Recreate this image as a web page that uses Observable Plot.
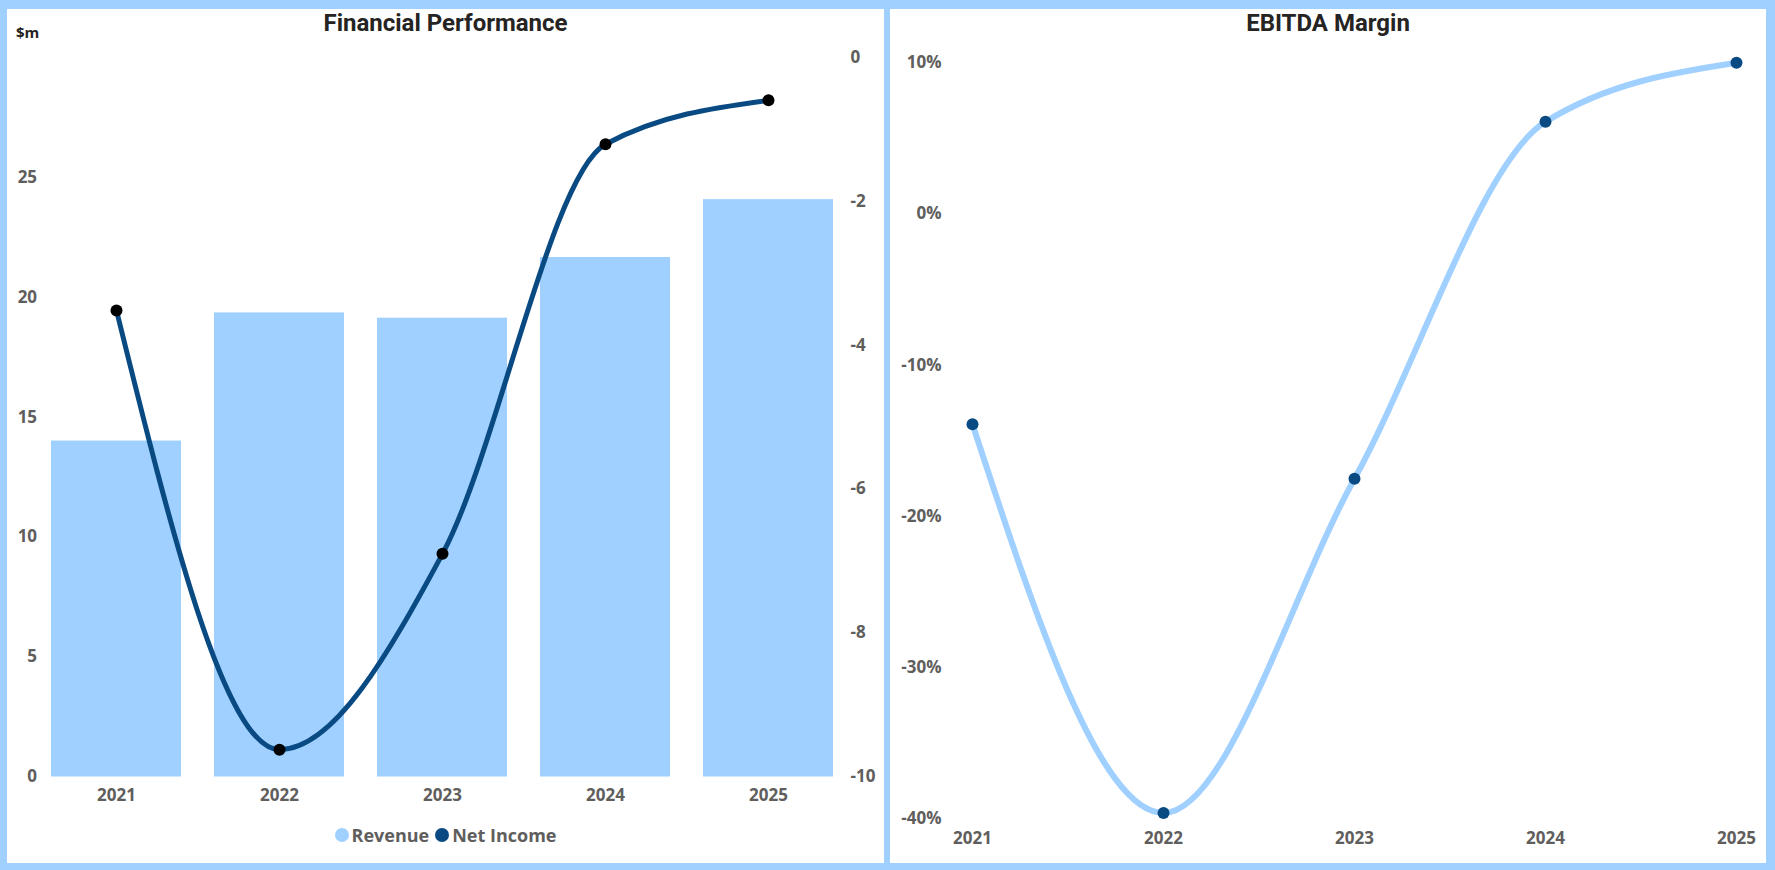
<!DOCTYPE html>
<html>
<head>
<meta charset="utf-8">
<script src="https://cdn.jsdelivr.net/npm/d3@7"></script>
<script src="https://cdn.jsdelivr.net/npm/@observablehq/plot@0.6"></script>
<style>
  html, body { margin: 0; padding: 0; background: #A0D0FF; }
  #frame { position: relative; width: 1775px; height: 870px; background: #A0D0FF; overflow: hidden; }
  .panel { position: absolute; background: #ffffff; }
  .title { position: absolute; left: 0; right: 0; text-align: center; font-family: Roboto, "Open Sans", sans-serif; font-weight: 700; font-size: 24px; color: #252423; line-height: 28px; }
  .unit { position: absolute; font-family: "Open Sans", sans-serif; font-weight: 700; font-size: 15px; color: #252423; line-height: 18px; }
  .legend { position: absolute; left: 0; right: 0; display: flex; justify-content: center; align-items: center; font-family: "Open Sans", sans-serif; font-weight: 700; font-size: 18px; color: #605E5C; line-height: 22px; }
  .legend .sw { width: 14px; height: 14px; border-radius: 50%; display: inline-block; margin-right: 3px; }
  .legend .item { display: flex; align-items: center; margin: 0 3px; }
  .chart { position: absolute; left: 0; top: 0; }
</style>
</head>
<body>
<div id="frame">
  <div class="panel" id="left" style="left:7px; top:9px; width:877px; height:854px;">
    <div class="chart" id="leftChart"></div>
    <div class="title" style="top:0px;">Financial Performance</div>
    <div class="unit" style="left:9px; top:14px;">$m</div>
    <div class="legend" id="legend" style="top:815px;"></div>
  </div>
  <div class="panel" id="right" style="left:890px; top:9px; width:876px; height:854px;">
    <div class="chart" id="rightChart"></div>
    <div class="title" style="top:0px;">EBITDA Margin</div>
  </div>
</div>
<script>
// ---- Data ----
const years = ["2021", "2022", "2023", "2024", "2025"];
const revenue = [14.0, 19.34, 19.12, 21.65, 24.06];        // $m
const netIncome = [-3.52, -9.62, -6.9, -1.21, -0.6];        // $m
const ebitdaMargin = [-13.9, -39.6, -17.5, 6.1, 10.0];      // %
const revenueTicks = [0, 5, 10, 15, 20, 25];
const netIncomeTicks = [-10, -8, -6, -4, -2, 0];
const marginTicks = [-40, -30, -20, -10, 0, 10];
const seriesNames = ["Revenue", "Net Income"];

// ---- Colours ----
const lightBlue = "#A0D0FF";
const darkBlue = "#0A4A82";

const rows = years.map((year, i) => ({
  year, revenue: revenue[i], netIncome: netIncome[i], margin: ebitdaMargin[i]
}));

// secondary axis mapping: net income domain [-10, 0] onto revenue domain [0, 30]
const y2 = d3.scaleLinear().domain([-10, 0]).range([0, 30]);

const axisStyle = {
  fontFamily: "'Open Sans', sans-serif",
  fontSize: "17px",
  fontWeight: "700",
  color: "#605E5C",
  background: "transparent",
  overflow: "visible"
};

const left = Plot.plot({
  width: 877,
  height: 810,
  marginTop: 47.6,
  marginBottom: 42.5,
  marginLeft: 27.6,
  marginRight: 34.4,
  style: axisStyle,
  x: { type: "band", domain: years, paddingInner: 0.2, paddingOuter: 0.1 },
  y: { domain: [0, 30] },
  marks: [
    Plot.barY(rows, { x: "year", y: "revenue", fill: lightBlue }),
    Plot.line(rows, { x: "year", y: d => y2(d.netIncome), stroke: darkBlue, strokeWidth: 5, curve: "monotone-x" }),
    Plot.dot(rows, { x: "year", y: d => y2(d.netIncome), r: 6, fill: "#000000" }),
    Plot.axisX({ tickSize: 0, tickPadding: 12, label: null }),
    Plot.axisY(revenueTicks, { anchor: "left", tickSize: 0, tickPadding: -2, label: null }),
    Plot.axisY(netIncomeTicks.map(v => y2(v)), {
      anchor: "right", tickSize: 0, tickPadding: 0.5, label: null,
      tickFormat: d => String(Math.round(y2.invert(d)))
    })
  ]
});
document.getElementById("leftChart").appendChild(left);

const right = Plot.plot({
  width: 876,
  height: 854,
  marginTop: 53.3,
  marginBottom: 44.5,
  marginLeft: 80,
  marginRight: 28.4,
  style: axisStyle,
  x: { type: "point", domain: years, padding: 0 },
  y: { domain: [-40, 10] },
  marks: [
    Plot.line(rows, { x: "year", y: "margin", stroke: lightBlue, strokeWidth: 6, curve: "monotone-x" }),
    Plot.dot(rows, { x: "year", y: "margin", r: 6, fill: darkBlue }),
    Plot.axisX({ tickSize: 0, tickPadding: 13, label: null }),
    Plot.axisY(marginTicks, { anchor: "left", tickSize: 0, tickPadding: 29, label: null, tickFormat: d => d + "%" })
  ]
});
document.getElementById("rightChart").appendChild(right);

// legend
const legendColors = [lightBlue, darkBlue];
const legend = document.getElementById("legend");
seriesNames.forEach((name, i) => {
  const item = document.createElement("span");
  item.className = "item";
  const sw = document.createElement("span");
  sw.className = "sw";
  sw.style.background = legendColors[i];
  const label = document.createElement("span");
  label.textContent = name;
  item.appendChild(sw);
  item.appendChild(label);
  legend.appendChild(item);
});
</script>
</body>
</html>
